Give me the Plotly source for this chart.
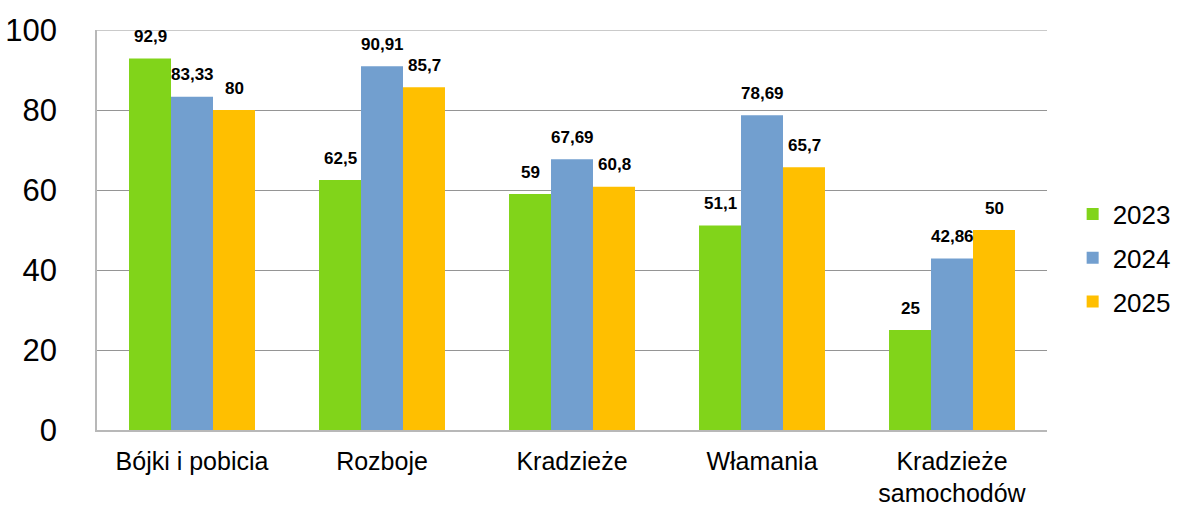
import plotly.graph_objects as go

categories = ["Bójki i pobicia", "Rozboje", "Kradzieże", "Włamania", "Kradzieże<br>samochodów"]
years = ["2023", "2024", "2025"]
v2023 = [92.9, 62.5, 59, 51.1, 25]
v2024 = [83.33, 90.91, 67.69, 78.69, 42.86]
v2025 = [80, 85.7, 60.8, 65.7, 50]
labels2023 = ["92,9", "62,5", "59", "51,1", "25"]
labels2024 = ["83,33", "90,91", "67,69", "78,69", "42,86"]
labels2025 = ["80", "85,7", "60,8", "65,7", "50"]
colors = ["#81D41A", "#729FCF", "#FFBF00"]
y_max = 100

series = [v2023, v2024, v2025]
labels = [labels2023, labels2024, labels2025]

fig = go.Figure()
for i, (yr, vals, col) in enumerate(zip(years, series, colors)):
    fig.add_trace(go.Bar(x=categories, y=vals, name=yr, marker_color=col,
                         marker_line_width=0, legendgroup=yr))

bar_px = 42
for i, (vals, labs) in enumerate(zip(series, labels)):
    for c, v, t in zip(categories, vals, labs):
        fig.add_annotation(x=c, y=v, text="<b>%s</b>" % t, showarrow=False,
                           xshift=(i - 1) * bar_px, yshift=22, yanchor="middle",
                           font=dict(family="Liberation Sans, Arial", size=17, color="#000"))

# top gridline at the range maximum
fig.add_shape(type="line", xref="paper", x0=0, x1=1, yref="y", y0=y_max, y1=y_max,
              line=dict(color="#959595", width=1), layer="below")

fig.update_layout(
    width=1178, height=506,
    margin=dict(l=97, r=131, t=30, b=76, autoexpand=False),
    plot_bgcolor="white", paper_bgcolor="white",
    barmode="group", bargap=0.337, bargroupgap=0,
    font=dict(family="Liberation Sans, Arial", color="#000"),
    legend=dict(x=1.027, y=0.43, xanchor="left", yanchor="middle",
                font=dict(size=26), tracegroupgap=7, traceorder="grouped",
                itemwidth=30),
    showlegend=True,
)
fig.update_xaxes(showline=True, linecolor="#b8b8b8", linewidth=1.5,
                 tickfont=dict(size=25), ticks="outside", ticklen=8,
                 tickcolor="rgba(0,0,0,0)", showgrid=False, automargin=False)
fig.update_yaxes(range=[0, y_max], tickvals=[0, 20, 40, 60, 80, 100],
                 showgrid=True, gridcolor="#959595",
                 gridwidth=1, showline=True, linecolor="#b8b8b8", linewidth=1.5,
                 tickfont=dict(size=31), ticklabelstandoff=32, zeroline=False,
                 automargin=False)

fig.write_html("out.html", post_script="document.body.style.margin='0';",
               config={"displayModeBar": False})
